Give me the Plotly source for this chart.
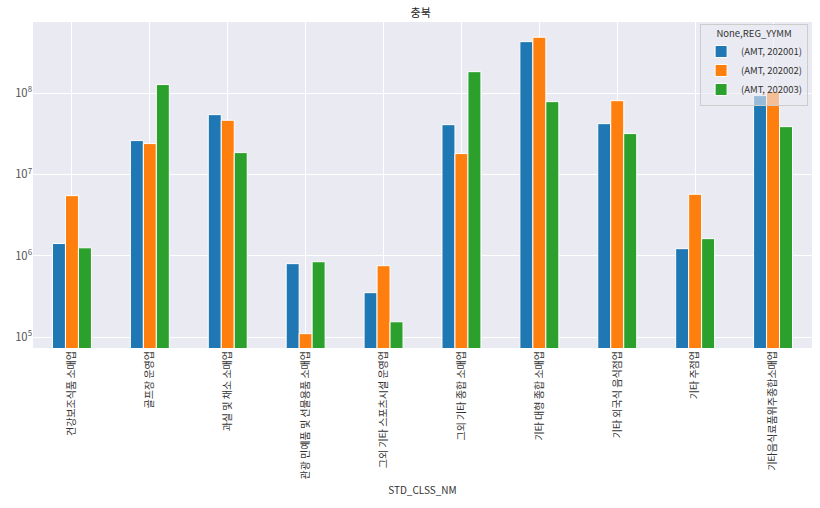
import plotly.graph_objects as go

categories = ["건강보조식품 소매업", "골프장 운영업", "과실 및 채소 소매업", "관광 민예품 및 선물용품 소매업",
              "그외 기타 스포츠시설 운영업", "그외 기타 종합 소매업", "기타 대형 종합 소매업",
              "기타 외국식 음식점업", "기타 주점업", "기타음식료품위주종합소매업"]
amt_202001 = [1.41e6, 2.6e7, 5.42e7, 7.98e5, 3.51e5, 4.08e7, 4.28e8, 4.2e7, 1.22e6, 9.29e7]
amt_202002 = [5.47e6, 2.39e7, 4.62e7, 1.10e5, 7.53e5, 1.8e7, 4.85e8, 8.05e7, 5.69e6, 1.05e8]
amt_202003 = [1.25e6, 1.27e8, 1.85e7, 8.43e5, 1.54e5, 1.83e8, 7.83e7, 3.17e7, 1.62e6, 3.86e7]
series_names = ["(AMT, 202001)", "(AMT, 202002)", "(AMT, 202003)"]
colors = ["#1f77b4", "#ff7f0e", "#2ca02c"]

fig = go.Figure()
for name, vals, c in zip(series_names, [amt_202001, amt_202002, amt_202003], colors):
    fig.add_trace(go.Bar(x=categories, y=vals, name=name, marker_color=c,
                         marker_line_color="white", marker_line_width=1))

font = "Noto Sans CJK KR, DejaVu Sans, sans-serif"
fig.update_layout(
    width=820, height=508,
    margin=dict(l=33, r=8, t=22, b=160),
    paper_bgcolor="white", plot_bgcolor="#EAEAF2",
    font=dict(family=font, size=10, color="#333333"),
    title=dict(text="충북", x=0.513, xanchor="center", y=0.975, yanchor="middle",
               font=dict(size=11, color="#222222")),
    barmode="group", bargap=0.5, bargroupgap=0,
    showlegend=True,
    legend=dict(x=0.995, y=0.995, xanchor="right", yanchor="top",
                bgcolor="rgba(234,234,242,0.6)", bordercolor="#cccccc", borderwidth=1,
                title=dict(text="None,REG_YYMM", side="top center", font=dict(size=9.5, color="#333333")),
                font=dict(size=9.5, color="#333333"), itemwidth=30, tracegroupgap=0),
    xaxis=dict(showgrid=True, gridcolor="white", gridwidth=1, tickangle=-90,
               tickfont=dict(size=10, color="#333333"), ticks="", zeroline=False,
               title=dict(text="STD_CLSS_NM", font=dict(size=10, color="#333333"), standoff=8)),
    yaxis=dict(type="log", range=[4.865, 8.873], dtick=1, exponentformat="power",
               showgrid=True, gridcolor="white", gridwidth=1, ticks="", zeroline=False,
               tickfont=dict(size=9, color="#555555")),
)

fig.write_html("out.html")
